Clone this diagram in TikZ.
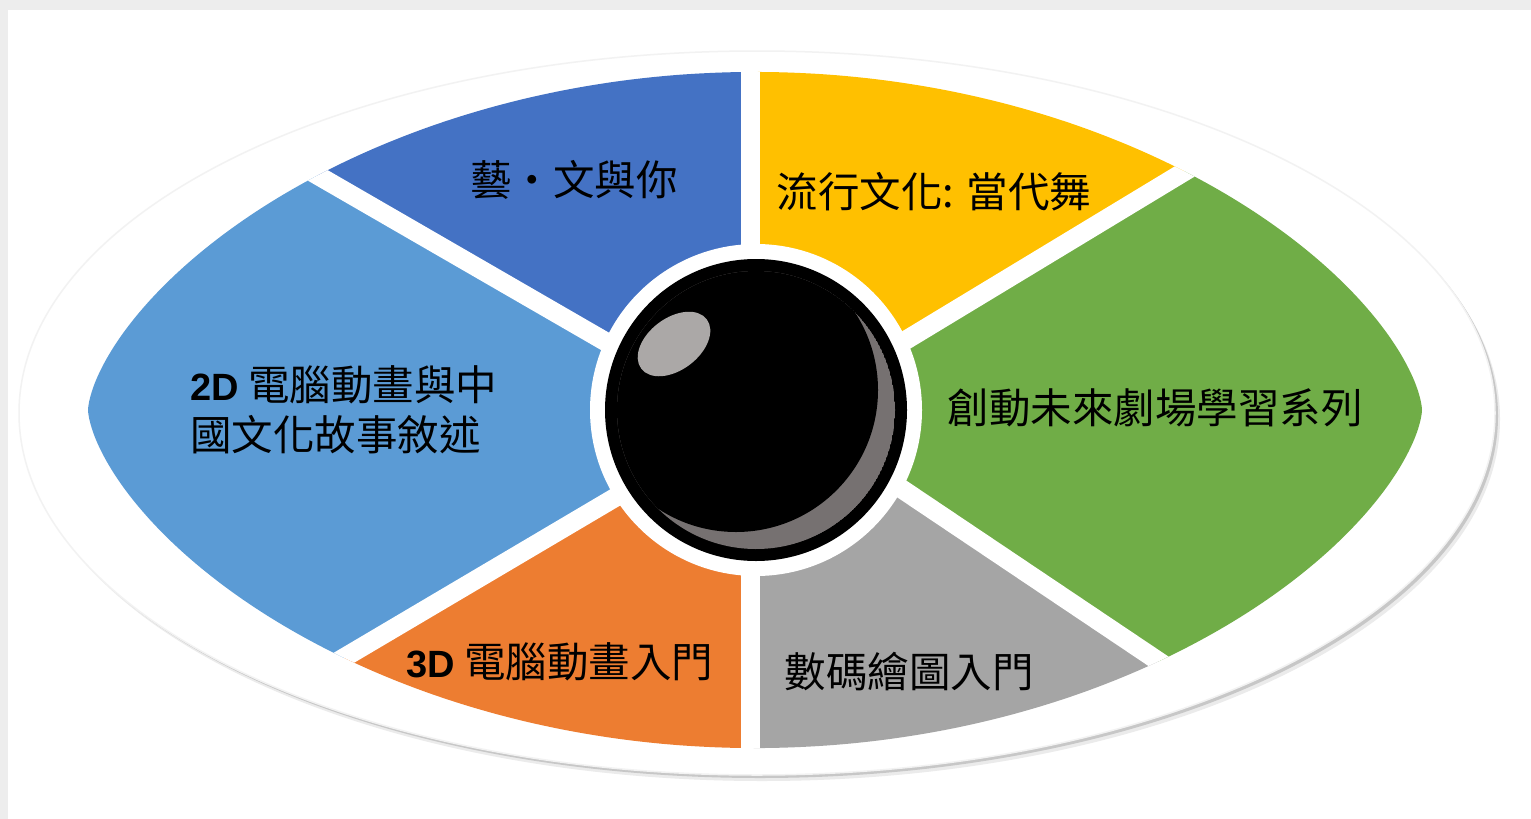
\documentclass[tikz,border=0pt]{standalone}
\usepackage{fontspec}
\setmainfont{Liberation Sans}
\newfontfamily\cjk{Noto Sans CJK TC}
\usetikzlibrary{calc}
\definecolor{segblue}{HTML}{4472C4}
\definecolor{segltblue}{HTML}{5B9BD5}
\definecolor{segyellow}{HTML}{FFC000}
\definecolor{seggreen}{HTML}{70AD47}
\definecolor{seggray}{HTML}{A5A5A5}
\definecolor{segorange}{HTML}{ED7D31}
\definecolor{shine}{HTML}{ABA8A7}
\definecolor{rim}{HTML}{767171}

\begin{document}
\begin{tikzpicture}[x=1pt,y=-1pt,
    lbl/.style={font=\cjk\fontsize{41.5}{50}\selectfont, text=black, inner sep=0pt},
    gap/.style={white, line width=19pt}]
          \useasboundingbox (0,0) rectangle (1531,819);
          \fill[black!7] (0,0) rectangle (1531,819);
          \fill[white] (8,10) rectangle (1531,819);

          \fill[black!8] (762,419) ellipse [x radius=738, y radius=362];
          \fill[black!22] (760,416) ellipse [x radius=738, y radius=362];
          \filldraw[fill=white, draw=black!5, line width=1.5pt] (757,413) ellipse [x radius=738, y radius=362];

          \coordinate (ulin) at (710,402);
          \coordinate (llin) at (709,442);
          \coordinate (urin) at (802,403);
          \coordinate (lrin) at (805,424);
          \coordinate (ul) at (54,23);
          \coordinate (ll) at (110,796);
          \coordinate (ur) at (1440,17);
          \coordinate (lr) at (1386,814);

          \begin{scope}
            \clip plot[variable=\t, domain=0:360, samples=240, smooth]
              ({755+667*cos(\t)}, {410-338*sin(\t)*(abs(sin(\t))+0.0001)^0.3}) -- cycle;
            \fill[segltblue] (ulin) -- (ul) -- (0,0) -- (0,819) -- (ll) -- (llin) -- cycle;
            \fill[segblue] (ulin) -- (ul) -- (750,0) -- (750,410) -- cycle;
            \fill[segyellow] (750,410) -- (750,0) -- (ur) -- (urin) -- cycle;
            \fill[seggreen] (urin) -- (ur) -- (1531,0) -- (1531,819) -- (lr) -- (lrin) -- cycle;
            \fill[seggray] (lrin) -- (lr) -- (750,819) -- (750,410) -- cycle;
            \fill[segorange] (750,410) -- (750,819) -- (ll) -- (llin) -- cycle;
            \draw[gap] (750,0) -- (750,819);
            \draw[gap] (ulin) -- (ul);
            \draw[gap] (llin) -- (ll);
            \draw[gap] (urin) -- (ur);
            \draw[gap] (lrin) -- (lr);
          \end{scope}

          \coordinate (eye) at (756,410);
          \fill[white] (eye) circle (166);
          \fill[black] (eye) circle (151);
          \begin{scope}
            \clip (eye) circle (139);
            \fill[rim] (eye) circle (139);
            \fill[black] (736,390) circle (142);
          \end{scope}
          \fill[shine, rotate around={37:(674,344)}] (674,344) ellipse [x radius=41, y radius=26];

          \node[lbl] (art) at (574,180) {藝・文與你};
          \node[lbl] (pop) at (934,192) {流行文化: 當代舞};
          \node[lbl, anchor=west, align=left] (anim2d) at (190,410)
            {{\rmfamily\bfseries\fontsize{38}{50}\selectfont 2D} 電腦動畫與中\\國文化故事敘述};
          \node[lbl] (stage) at (1155,408) {創動未來劇場學習系列};
          \node[lbl] (anim3d) at (560,662) {{\rmfamily\bfseries\fontsize{38}{50}\selectfont 3D} 電腦動畫入門};
          \node[lbl] (paint) at (909,672) {數碼繪圖入門};
        \end{tikzpicture}
\end{document}
